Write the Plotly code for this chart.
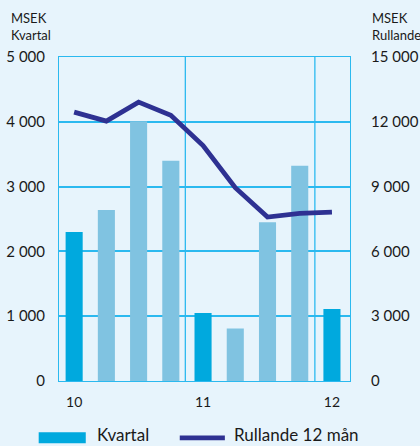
import plotly.graph_objects as go

# Data
quarters = ["Q1 10", "Q2 10", "Q3 10", "Q4 10", "Q1 11", "Q2 11", "Q3 11", "Q4 11", "Q1 12"]
kvartal = [2300, 2640, 4010, 3400, 1050, 810, 2450, 3320, 1110]
rullande = [12450, 12030, 12910, 12300, 10900, 8950, 7590, 7760, 7820]
year_labels = ["10", "11", "12"]
year_label_pos = [0, 4, 8]
left_ticks = [0, 1000, 2000, 3000, 4000, 5000]
left_ticktext = ["0", "1 000", "2 000", "3 000", "4 000", "5 000"]
right_ticks = [0, 3000, 6000, 9000, 12000, 15000]
right_ticktext = ["0", "3 000", "6 000", "9 000", "12 000", "15 000"]

DARK = "#00a9de"
LIGHT = "#80c3e1"
NAVY = "#2e3192"
GRID = "#2bb9ef"
BG = "#e7f4fc"
FONT = "Lato"
TXT = "#1a1a1a"

x = list(range(len(quarters)))
bar_colors = [DARK if q.startswith("Q1") else LIGHT for q in quarters]

fig = go.Figure()
fig.add_trace(go.Bar(x=x, y=kvartal, marker=dict(color=bar_colors, line=dict(width=0)),
                     width=0.53, name="Kvartal", showlegend=False))
fig.add_trace(go.Scatter(x=x, y=rullande, yaxis="y2", mode="lines",
                         line=dict(color=NAVY, width=4.8), name="Rullande 12 mån",
                         showlegend=False))

# year separators
for xv in [3.45, 7.47]:
    fig.add_shape(type="line", xref="x", yref="paper", x0=xv, x1=xv, y0=0, y1=1,
                  line=dict(color=GRID, width=1.3), layer="below")

fig.update_layout(
    width=420, height=446,
    margin=dict(l=59, r=70, t=57, b=65, autoexpand=False),
    paper_bgcolor=BG, plot_bgcolor=BG,
    font=dict(family=FONT, color=TXT, size=15),
    showlegend=False,
    xaxis=dict(range=[-0.47, 8.56], tickvals=year_label_pos, ticktext=year_labels,
               showgrid=False, zeroline=False, showline=True, linecolor=GRID, linewidth=1,
               mirror=True, ticks="", ticklabelstandoff=8,
               tickfont=dict(size=14, family=FONT, color=TXT)),
    yaxis=dict(range=[0, 5000], tickvals=left_ticks, ticktext=left_ticktext,
               showgrid=True, gridcolor=GRID, gridwidth=1.6, zeroline=False,
               showline=True, linecolor=GRID, linewidth=1, mirror=True,
               ticks="", ticklabelstandoff=10, tickfont=dict(size=15, family=FONT, color=TXT)),
    yaxis2=dict(range=[0, 15000], tickvals=right_ticks, ticktext=right_ticktext,
                overlaying="y", side="right", showgrid=False, zeroline=False,
                showline=False, ticks="", ticklabelstandoff=20,
                tickfont=dict(size=15, family=FONT, color=TXT)),
)

# axis titles
fig.add_annotation(xref="paper", yref="paper", x=-0.172, y=1.0, yshift=12, xanchor="left", yanchor="bottom",
                   text="MSEK<br>Kvartal", showarrow=False, align="left",
                   font=dict(size=13, family=FONT, color=TXT))
fig.add_annotation(xref="paper", yref="paper", x=1.068, y=1.0, yshift=12, xanchor="left", yanchor="bottom",
                   text="MSEK<br>Rullande", showarrow=False, align="left",
                   font=dict(size=13, family=FONT, color=TXT))

# custom legend
fig.add_shape(type="rect", xref="paper", yref="paper", x0=-0.0698, x1=0.092, y0=-0.192, y1=-0.158,
              fillcolor=DARK, line=dict(width=0))
fig.add_annotation(xref="paper", yref="paper", x=0.122, y=-0.166, xanchor="left", yanchor="middle",
                   text="Kvartal", showarrow=False, font=dict(size=17, family=FONT, color=TXT))
fig.add_shape(type="line", xref="paper", yref="paper", x0=0.415, x1=0.57, y0=-0.1755, y1=-0.1755,
              line=dict(color=NAVY, width=4.8))
fig.add_annotation(xref="paper", yref="paper", x=0.594, y=-0.166, xanchor="left", yanchor="middle",
                   text="Rullande 12 mån", showarrow=False, font=dict(size=17, family=FONT, color=TXT))

fig.write_html("out.html", config={"displayModeBar": False},
               post_script="document.body.style.margin='0';document.body.style.background='#e7f4fc';")
